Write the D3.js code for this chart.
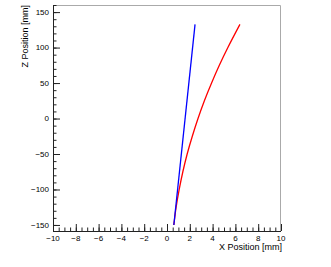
<!DOCTYPE html>
<html>
<head>
<meta charset="utf-8">
<script src="https://cdn.jsdelivr.net/npm/d3@7"></script>
<style>
  body { margin: 0; background: #fff; }
  text { font-family: "Liberation Sans", Arial, sans-serif; fill: #000; }
</style>
</head>
<body>
<div id="chart"></div>
<script>
const straightZ = [-150, 132.7];
const straightX = [0.6, 2.46];

const curvedZ = [-150, -125, -100, -75, -50, -25, 0, 25, 50, 75, 100, 132.7];
const curvedX = [0.6, 0.8, 1.07, 1.39, 1.77, 2.22, 2.72, 3.28, 3.91, 4.59, 5.34, 6.4];

const xTicks = [-10, -8, -6, -4, -2, 0, 2, 4, 6, 8, 10];
const zTicks = [-150, -100, -50, 0, 50, 100, 150];

const width = 331, height = 267;
const margins = { left: 53, right: 50, top: 5, bottom: 36 };
const w = width - margins.left - margins.right;
const h = height - margins.top - margins.bottom;

const svg = d3.select("#chart").append("svg")
  .attr("width", width)
  .attr("height", height)
  .append("g")
  .attr("transform", `translate(${margins.left},${margins.top})`);

const xScale = d3.scaleLinear().domain([-10, 10]).range([0, w]);
const yScale = d3.scaleLinear().domain([-158.5, 160]).range([h, 0]);

// frame (top / right in gray)
svg.append("path")
  .attr("d", `M0,0.5H${w - 0.5}V${h}`)
  .attr("fill", "none")
  .attr("stroke", "#aaa")
  .attr("stroke-width", 1);

// x axis, ticks pointing inward
const xMinor = d3.range(-10, 10.01, 0.5);
svg.append("g")
  .attr("transform", `translate(0,${h})`)
  .call(d3.axisTop(xScale).tickValues(xMinor).tickSize(3.5).tickFormat(""))
  .call(g => g.select(".domain").remove());
svg.append("g")
  .attr("class", "x axis")
  .attr("transform", `translate(0,${h})`)
  .call(d3.axisTop(xScale).tickValues(xTicks).tickSize(7).tickFormat(""))
  .call(g => g.select(".domain").attr("d", `M0,0.5H${w}`));
svg.append("g")
  .selectAll("text")
  .data(xTicks)
  .enter().append("text")
  .attr("x", d => xScale(d))
  .attr("y", h + 10)
  .attr("text-anchor", "middle")
  .style("font-size", "8px")
  .text(d => d3.format("d")(d));

// y axis
const zMinor = d3.range(-150, 160.01, 10);
svg.append("g")
  .call(d3.axisRight(yScale).tickValues(zMinor).tickSize(3.5).tickFormat(""))
  .call(g => g.select(".domain").remove());
svg.append("g")
  .attr("class", "y axis")
  .call(d3.axisRight(yScale).tickValues(zTicks).tickSize(7).tickFormat(""))
  .call(g => g.select(".domain").attr("d", `M0.5,0V${h}`));
svg.append("g")
  .selectAll("text")
  .data(zTicks)
  .enter().append("text")
  .attr("x", -4)
  .attr("y", d => yScale(d))
  .attr("dy", "0.35em")
  .attr("text-anchor", "end")
  .style("font-size", "8px")
  .text(d => d3.format("d")(d));

svg.selectAll(".tick line").attr("stroke", "#222");
svg.selectAll(".domain").attr("stroke", "#222");

const line = d3.line()
  .x(d => xScale(d[0]))
  .y(d => yScale(d[1]));

svg.append("path")
  .datum(d3.zip(curvedX, curvedZ))
  .attr("d", line.curve(d3.curveMonotoneY))
  .attr("fill", "none")
  .attr("stroke", "#ff0000")
  .attr("stroke-width", 1.3);

svg.append("path")
  .datum(d3.zip(straightX, straightZ))
  .attr("d", line.curve(d3.curveLinear))
  .attr("fill", "none")
  .attr("stroke", "#0000ff")
  .attr("stroke-width", 1.3);

svg.append("text")
  .attr("x", w + 1)
  .attr("y", h + 19)
  .attr("text-anchor", "end")
  .style("font-size", "9px")
  .text("X Position [mm]");

svg.append("text")
  .attr("transform", "rotate(-90)")
  .attr("x", 0)
  .attr("y", -25)
  .attr("text-anchor", "end")
  .style("font-size", "9px")
  .text("Z Position [mm]");
</script>
</body>
</html>
